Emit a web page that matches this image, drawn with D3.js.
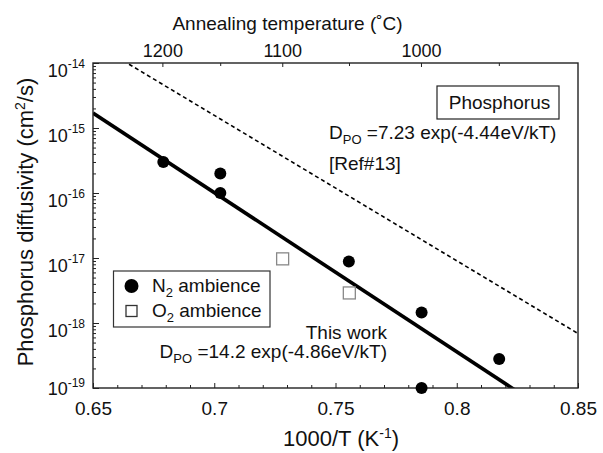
<!DOCTYPE html>
<html>
<head>
<meta charset="utf-8">
<script src="https://cdn.jsdelivr.net/npm/d3@7"></script>
<style>
  body { margin: 0; background: #fff; }
  text { font-family: "Liberation Sans", Arial, Helvetica, sans-serif; fill: #111; }
</style>
</head>
<body>
<svg id="chart" width="603" height="453"></svg>
<script>
// Phosphorus diffusivity measured in N2 ambience: 1000/T (1/K) and D (cm^2/s)
const n2InvT = [0.679, 0.7025, 0.7025, 0.7555, 0.7855, 0.7855, 0.8175];
const n2D    = [3.0e-16, 2.0e-16, 1.0e-16, 8.8e-18, 1.45e-18, 1.0e-19, 2.8e-19];
// Measured in O2 ambience
const o2InvT = [0.7282, 0.7557];
const o2D    = [9.7e-18, 2.9e-18];
// Arrhenius fits D = D0 exp(-Ea/kT): this work, and Ref#13
const fitD0 = [14.2, 7.23];
const fitEa = [4.86, 4.44];
const fitDash = [null, "4,3"];
const fitWidth = [3.6, 1.6];
// Axis ticks
const xTicks = [0.65, 0.7, 0.75, 0.8, 0.85];
const yTickExp = [-14, -15, -16, -17, -18, -19];
const tempTicks = [1200, 1100, 1000];
const tempMinor = [1150, 1050, 950];

const kB = 8.617e-5; // eV/K
const svg = d3.select("#chart");
const L = 93, R = 578, T = 63, B = 388;

const x = d3.scaleLinear().domain([0.65, 0.85]).range([L, R]);
const y = d3.scaleLog().domain([1e-19, 1e-14]).range([B, T]);
const invT = c => 1000 / (c + 273.15);

svg.append("defs").append("clipPath").attr("id", "plot")
  .append("rect").attr("x", L).attr("y", T).attr("width", R - L).attr("height", B - T);

// Bottom axis: inward minor and major ticks
const minorX = d3.range(66, 85).map(d => d / 100).filter(d => !xTicks.some(t => Math.abs(t - d) < 1e-9));
svg.append("g").attr("transform", `translate(0,${B})`)
  .call(d3.axisBottom(x).tickValues(minorX).tickSize(-3).tickFormat(""))
  .call(g => g.select(".domain").remove())
  .call(g => g.selectAll("line").attr("stroke", "#222"));
svg.append("g").attr("transform", `translate(0,${B})`)
  .call(d3.axisBottom(x).tickValues(xTicks).tickSize(-5).tickSizeOuter(0).tickPadding(13.5)
        .tickFormat(d => String(d)))
  .call(g => g.select(".domain").remove())
  .call(g => g.selectAll("line").attr("stroke", "#222"))
  .call(g => g.selectAll("text").attr("font-size", 19).attr("font-family", null).style("fill", "#111"));

// Left axis: decade ticks plus log minor ticks
const minorY = [];
yTickExp.slice(1).forEach(e => { for (let m = 2; m <= 9; m++) minorY.push(m * Math.pow(10, e)); });
svg.append("g").attr("transform", `translate(${L},0)`)
  .call(d3.axisLeft(y).tickValues(minorY).tickSize(-3).tickFormat(""))
  .call(g => g.select(".domain").remove())
  .call(g => g.selectAll("line").attr("stroke", "#222"));
svg.append("g").attr("transform", `translate(${L},0)`)
  .call(d3.axisLeft(y).tickValues(yTickExp.map(e => Math.pow(10, e))).tickSize(-6).tickFormat(""))
  .call(g => g.select(".domain").remove())
  .call(g => g.selectAll("line").attr("stroke", "#222"));

// Decade labels 10^n
yTickExp.forEach((e, i) => {
  const base = y(Math.pow(10, e)) + (e === -19 ? 7 : 13.5);
  const t = svg.append("text").attr("x", 85).attr("y", base)
    .attr("text-anchor", "end").attr("font-size", 18);
  t.append("tspan").text("10");
  t.append("tspan").attr("dy", -8.5).attr("font-size", 12).text(String(e));
});

// Top axis: annealing temperature
tempTicks.forEach(c => {
  svg.append("line").attr("x1", x(invT(c))).attr("x2", x(invT(c)))
    .attr("y1", T).attr("y2", T + 4).attr("stroke", "#222");
  svg.append("text").attr("x", x(invT(c))).attr("y", 56.5)
    .attr("text-anchor", "middle").attr("font-size", 18).text(String(c));
});
tempMinor.forEach(c => {
  svg.append("line").attr("x1", x(invT(c))).attr("x2", x(invT(c)))
    .attr("y1", T).attr("y2", T + 3).attr("stroke", "#222");
});

// Fit lines
const lines = svg.append("g").attr("clip-path", "url(#plot)");
fitD0.forEach((d0, i) => {
  const pts = x.domain().map(v => [v, d0 * Math.exp(-fitEa[i] * v / (kB * 1000))]);
  lines.append("path")
    .attr("d", d3.line().x(d => x(d[0])).y(d => y(d[1]))(pts))
    .attr("fill", "none").attr("stroke", "#000")
    .attr("stroke-width", fitWidth[i])
    .attr("stroke-dasharray", fitDash[i]);
});

// Frame
svg.append("rect").attr("x", L).attr("y", T).attr("width", R - L).attr("height", B - T)
  .attr("fill", "none").attr("stroke", "#222").attr("stroke-width", 1.4);

// Data points
const pts = svg.append("g");
o2InvT.forEach((v, i) => {
  pts.append("rect").attr("x", x(v) - 6).attr("y", y(o2D[i]) - 6)
    .attr("width", 12).attr("height", 12)
    .attr("fill", "#fff").attr("stroke", "#888").attr("stroke-width", 1.3);
});
n2InvT.forEach((v, i) => {
  pts.append("circle").attr("cx", x(v)).attr("cy", y(n2D[i])).attr("r", 6).attr("fill", "#000");
});

// Legend
svg.append("rect").attr("x", 113.5).attr("y", 271).attr("width", 156.5).attr("height", 56)
  .attr("fill", "#fff").attr("stroke", "#333").attr("stroke-width", 1.2);
svg.append("circle").attr("cx", 131.5).attr("cy", 286).attr("r", 7).attr("fill", "#000");
svg.append("rect").attr("x", 126).attr("y", 305.5).attr("width", 11).attr("height", 11)
  .attr("fill", "#fff").attr("stroke", "#333").attr("stroke-width", 1.3);
[["N", 291.5], ["O", 317]].forEach(([s, by]) => {
  const t = svg.append("text").attr("x", 152).attr("y", by).attr("font-size", 19);
  t.append("tspan").text(s);
  t.append("tspan").attr("dy", 5).attr("font-size", 13).text("2");
  t.append("tspan").attr("dy", -5).text(" ambience");
});

// Phosphorus label box
svg.append("rect").attr("x", 437).attr("y", 86).attr("width", 122).attr("height", 33)
  .attr("fill", "#fff").attr("stroke", "#222").attr("stroke-width", 1.2);
svg.append("text").attr("x", 499.5).attr("y", 109).attr("text-anchor", "middle")
  .attr("font-size", 19).text("Phosphorus");

// Fit annotations
function dpo(xp, yp, anchor, rest) {
  const t = svg.append("text").attr("x", xp).attr("y", yp).attr("text-anchor", anchor).attr("font-size", 19);
  t.append("tspan").text("D");
  t.append("tspan").attr("dy", 5).attr("font-size", 13).text("PO");
  t.append("tspan").attr("dy", -5).text(rest);
}
dpo(329, 139, "start", " =7.23 exp(-4.44eV/kT)");
svg.append("text").attr("x", 329).attr("y", 170).attr("font-size", 19).text("[Ref#13]");
svg.append("text").attr("x", 387).attr("y", 339).attr("text-anchor", "end")
  .attr("font-size", 19).text("This work");
dpo(387, 358, "end", " =14.2 exp(-4.86eV/kT)");

// Axis titles
svg.append("text").attr("x", 287.5).attr("y", 30).attr("text-anchor", "middle")
  .attr("font-size", 19).text("Annealing temperature (˚C)");
const xl = svg.append("text").attr("x", 341).attr("y", 446).attr("text-anchor", "middle").attr("font-size", 22);
xl.append("tspan").text("1000/T (K");
xl.append("tspan").attr("dy", -8).attr("font-size", 14).text("-1");
xl.append("tspan").attr("dy", 8).text(")");
const yl = svg.append("text").attr("transform", "translate(33,222) rotate(-90)")
  .attr("text-anchor", "middle").attr("font-size", 22);
yl.append("tspan").text("Phosphorus diffusivity (cm");
yl.append("tspan").attr("dy", -8).attr("font-size", 14).text("2");
yl.append("tspan").attr("dy", 8).text("/s)");
</script>
</body>
</html>
